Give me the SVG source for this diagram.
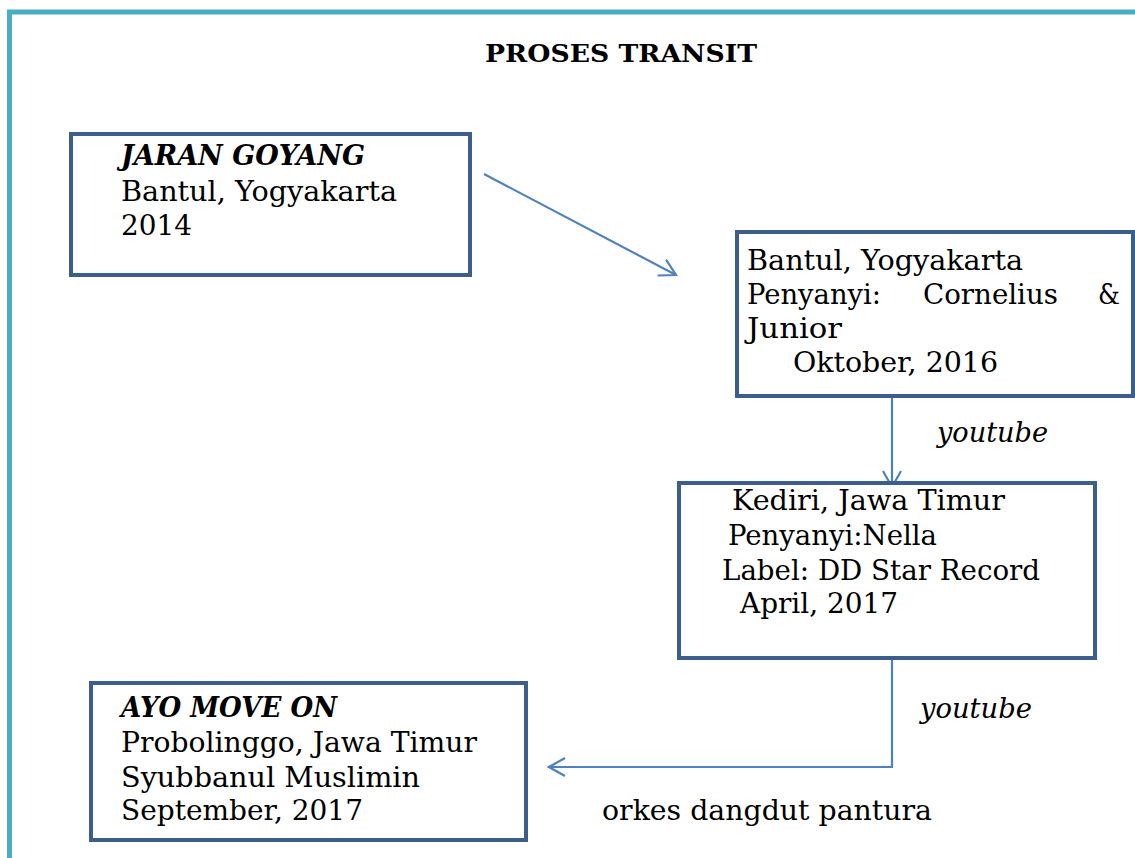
<svg xmlns="http://www.w3.org/2000/svg" width="1135" height="858" viewBox="0 0 1135 858">
<defs>
<style>
.frame{stroke:#4BACC6;stroke-width:5;fill:none}
.box{fill:#fff;stroke:#3B5E8C;stroke-width:4}
.t{font-family:"DejaVu Serif","Liberation Serif",serif;font-size:28px;fill:#000}
.bi{font-weight:bold;font-style:italic}
.i{font-style:italic}
.title{font-family:"DejaVu Serif","Liberation Serif",serif;font-size:25px;font-weight:bold;fill:#000}
.conn{stroke:#4F81BD;stroke-width:2.2;fill:none}
</style>
<marker id="arr" viewBox="0 0 20 20" refX="18" refY="10" markerWidth="20" markerHeight="20" markerUnits="userSpaceOnUse" orient="auto">
<path d="M2,1 L18,10 L2,19" fill="none" stroke="#4F81BD" stroke-width="2.2"/>
</marker>
</defs>
<rect width="1135" height="858" fill="#fff"/>
<path class="frame" d="M9.5,858 V12 H1135"/>
<text class="title" x="485" y="62" textLength="272" lengthAdjust="spacingAndGlyphs">PROSES TRANSIT</text>
<g id="connectors">
<line class="conn" x1="484" y1="174" x2="676" y2="275" marker-end="url(#arr)"/>
<line class="conn" x1="892" y1="397" x2="892" y2="487" marker-end="url(#arr)"/>
<path class="conn" d="M892,658 V767 H549" marker-end="url(#arr)"/>
</g>
<g id="node-jaran-goyang">
<rect class="box" x="71" y="134" width="399" height="141"/>
<text class="t bi" x="121" y="165" textLength="244" lengthAdjust="spacingAndGlyphs">JARAN GOYANG</text>
<text class="t" x="121" y="201" textLength="276" lengthAdjust="spacingAndGlyphs">Bantul, Yogyakarta</text>
<text class="t" x="121" y="235" textLength="71" lengthAdjust="spacingAndGlyphs">2014</text>
</g>
<g id="node-bantul">
<rect class="box" x="737" y="232" width="396" height="164"/>
<text class="t" x="747" y="270" textLength="276" lengthAdjust="spacingAndGlyphs">Bantul, Yogyakarta</text>
<text class="t" x="747" y="304" textLength="134" lengthAdjust="spacingAndGlyphs">Penyanyi:</text>
<text class="t" x="923" y="304" textLength="135" lengthAdjust="spacingAndGlyphs">Cornelius</text>
<text class="t" x="1098" y="304" textLength="22" lengthAdjust="spacingAndGlyphs">&amp;</text>
<text class="t" x="747" y="338" textLength="95" lengthAdjust="spacingAndGlyphs">Junior</text>
<text class="t" x="793" y="372" textLength="205" lengthAdjust="spacingAndGlyphs">Oktober, 2016</text>
</g>
<text class="t i" x="937" y="442" textLength="111" lengthAdjust="spacingAndGlyphs">youtube</text>
<g id="node-kediri">
<rect class="box" x="679" y="483" width="416" height="175"/>
<text class="t" x="732" y="510" textLength="273" lengthAdjust="spacingAndGlyphs">Kediri, Jawa Timur</text>
<text class="t" x="728" y="545" textLength="209" lengthAdjust="spacingAndGlyphs">Penyanyi:Nella</text>
<text class="t" x="722" y="580" textLength="318" lengthAdjust="spacingAndGlyphs">Label: DD Star Record</text>
<text class="t" x="740" y="613" textLength="158" lengthAdjust="spacingAndGlyphs">April, 2017</text>
</g>
<text class="t i" x="920" y="718" textLength="112" lengthAdjust="spacingAndGlyphs">youtube</text>
<g id="node-ayo-move-on">
<rect class="box" x="91" y="683" width="435" height="157"/>
<text class="t bi" x="121" y="717" textLength="216" lengthAdjust="spacingAndGlyphs">AYO MOVE ON</text>
<text class="t" x="121" y="752" textLength="356" lengthAdjust="spacingAndGlyphs">Probolinggo, Jawa Timur</text>
<text class="t" x="121" y="787" textLength="299" lengthAdjust="spacingAndGlyphs">Syubbanul Muslimin</text>
<text class="t" x="121" y="820" textLength="242" lengthAdjust="spacingAndGlyphs">September, 2017</text>
</g>
<text class="t" x="602" y="820" textLength="330" lengthAdjust="spacingAndGlyphs">orkes dangdut pantura</text>
</svg>
